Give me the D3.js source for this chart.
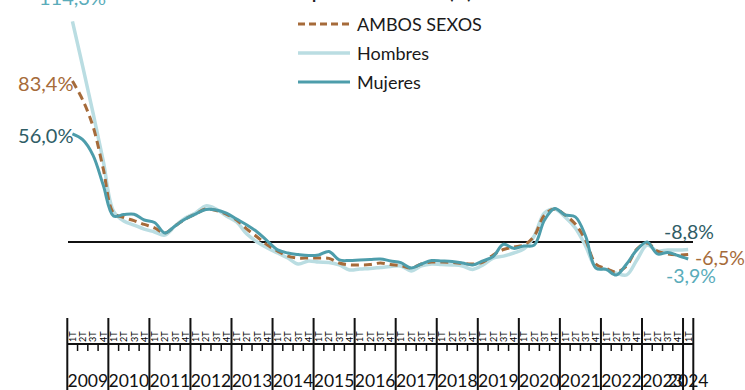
<!DOCTYPE html>
<html><head><meta charset="utf-8">
<script src="https://cdn.jsdelivr.net/npm/d3@7"></script>
<style>body{margin:0;background:#fff}svg{display:block}text{font-family:Lato,"Open Sans",sans-serif}</style>
</head><body><svg id="c" width="745" height="390"></svg>
<script>
const years = d3.range(2009, 2025);
const quarterLabels = ["1T","2T","3T","4T"];
const quarters = [];
years.forEach(y => quarterLabels.forEach((q,i) => { if (y < 2024 || i === 0) quarters.push(y + "-" + q); }));

const ambos = [83.4,73.6,60,38,15, 12.7,11.1,9.1,7.3,4.7, 8.3,11.9,14.5,17.1,16.3, 14.5,11.4,6.7,2.6,-1.6,
 -4.7,-7.3,-8.3,-8.3,-8.3, -8.5,-10.9,-11.9,-11.9,-11.7, -10.9,-11.7,-12.2,-13.5,-11.4, -10.4,-10.4,-10.6,-11.1,-11.4,
 -10.4,-6.7,-3.9,-2.6,-1.6, 3.1,14,17.1,14,9.3, 1,-11.4,-13.7,-15.5,-12.4, -3.6,-0.5,-4.7,-6.2,-6.7, -6.5];
const hombres = [114.3,91,67,42,16, 10.9,8.8,6.7,5.2,3.6, 8.3,12.4,15,18.7,17.1, 13.5,10.4,4.1,0,-3.1,
 -5.7,-8.3,-11.4,-9.8,-10.4, -10.6,-11.9,-14.5,-14,-13.7, -13.2,-12.7,-12.4,-15,-12.4, -11.4,-11.7,-11.9,-12.4,-14.2,
 -11.9,-8.3,-7.3,-5.7,-3.6, 3.1,15,17.1,13,7.3, -2,-13,-14.2,-16.1,-17.1, -9.3,-1.6,-4.7,-4.1,-4.2, -3.9];
const mujeres = [56,53,45,29.5,13.5, 14.2,14.4,11.4,10.1,4.7, 8.3,11.9,14.5,16.8,16.6, 15,11.9,8.8,5.2,0.5,
 -4.1,-5.7,-6.5,-7,-6.7, -4.9,-9.3,-9.6,-9.3,-9.1, -8.8,-9.8,-10.7,-13.5,-11.4, -9.6,-9.8,-10.1,-10.9,-11.9,
 -9.8,-7.5,-1.2,-3.3,-2.1, -1.6,11.4,17.4,14,13, 3.1,-13.5,-14.2,-17.1,-11.4, -4.1,0,-6.2,-5.4,-7, -8.8];

const seriesNames = ["AMBOS SEXOS","Hombres","Mujeres"];
const title = "Variación interanual del paro total del año (%)";

const svg = d3.select("#c");
const x = d3.scaleBand().domain(quarters).range([67.3, 693.3]).padding(0);
const y = d3.scaleLinear().domain([-20, 120]).range([242 + 20*1.93, 242 - 120*1.93]);
const cx = k => x(k) + x.bandwidth()/2;

const C = {amb:"#a66b3a", hom:"#badde2", muj:"#4d9dab", dark:"#2f5d66", lightTxt:"#5aacba"};

// title (mostly cut off)
svg.append("text").attr("x", 472).attr("y", -1).attr("text-anchor","end")
  .attr("font-size", 17).attr("font-weight","bold").attr("fill","#222").text(title);

// zero line
svg.append("line").attr("x1", 68).attr("x2", 693).attr("y1", y(0)).attr("y2", y(0))
  .attr("stroke","#111").attr("stroke-width",2);

const line = d3.line().x((d,i) => cx(quarters[i])).y(d => y(d)).curve(d3.curveCatmullRom.alpha(0.5));
svg.append("path").attr("d", line(hombres)).attr("fill","none").attr("stroke",C.hom).attr("stroke-width",3.5);
svg.append("path").attr("d", line(ambos)).attr("fill","none").attr("stroke",C.amb).attr("stroke-width",3).attr("stroke-dasharray","8,5");
svg.append("path").attr("d", line(mujeres)).attr("fill","none").attr("stroke",C.muj).attr("stroke-width",3);

// legend
const leg = [{n:seriesNames[0], c:C.amb, d:"7,4", w:3},{n:seriesNames[1], c:C.hom, d:null, w:3.5},{n:seriesNames[2], c:C.muj, d:null, w:3}];
leg.forEach((l,i) => {
  const yy = 24 + i*29;
  svg.append("line").attr("x1",298).attr("x2",350).attr("y1",yy).attr("y2",yy)
    .attr("stroke",l.c).attr("stroke-width",l.w).attr("stroke-dasharray", l.d);
  svg.append("text").attr("x",357).attr("y",yy+6.5).attr("font-size",18).attr("fill","#1a1a1a").text(l.n);
});

// value labels
const fmt = v => d3.format(".1f")(v).replace(".", ",").replace("\u2212", "-") + "%";
const first = quarters[0];
svg.append("text").attr("x", cx(first)).attr("y", 5).attr("text-anchor","middle").attr("font-size",20).attr("fill",C.lightTxt).text(fmt(hombres[0]));
svg.append("text").attr("x", cx(first)+1).attr("y", 91).attr("text-anchor","end").attr("font-size",20).attr("fill",C.amb).text(fmt(ambos[0]));
svg.append("text").attr("x", cx(first)+1).attr("y", 143).attr("text-anchor","end").attr("font-size",20).attr("fill",C.dark).text(fmt(mujeres[0]));
const n = quarters.length-1;
svg.append("text").attr("x", 664).attr("y", 239).attr("font-size",19.5).attr("fill",C.dark).text(fmt(mujeres[n]));
svg.append("text").attr("x", 695).attr("y", 265).attr("font-size",19.5).attr("fill",C.amb).text(fmt(ambos[n]));
svg.append("text").attr("x", 666).attr("y", 283).attr("font-size",19.5).attr("fill",C.lightTxt).text(fmt(hombres[n]));

// category axis
const ax = svg.append("g");
ax.append("line").attr("x1",67.3).attr("x2",693.3).attr("y1",344).attr("y2",344).attr("stroke","#111").attr("stroke-width",2);
quarters.forEach((k,i) => {
  const q = k.split("-")[1];
  if (q !== "1T") ax.append("line").attr("x1",x(k)).attr("x2",x(k)).attr("y1",344).attr("y2",351).attr("stroke","#111").attr("stroke-width",1.5);
  ax.append("text").attr("transform",`translate(${cx(k)+3.5},342) rotate(-90)`).attr("font-size",9).attr("fill","#000").text(q);
});
const yearStarts = years.map(yr => x(yr + "-1T"));
yearStarts.concat([693.3]).forEach(xx => {
  ax.append("line").attr("x1",xx).attr("x2",xx).attr("y1",318).attr("y2",390).attr("stroke","#111").attr("stroke-width",2);
});
years.forEach(yr => {
  const qs = quarters.filter(k => k.startsWith(yr+"-"));
  const x0 = x(qs[0]), x1 = x(qs[qs.length-1]) + x.bandwidth();
  ax.append("text").attr("x",(x0+x1)/2).attr("y",387).attr("text-anchor","middle").attr("font-size",17.5).attr("fill","#111").text(yr);
});
</script></body></html>
